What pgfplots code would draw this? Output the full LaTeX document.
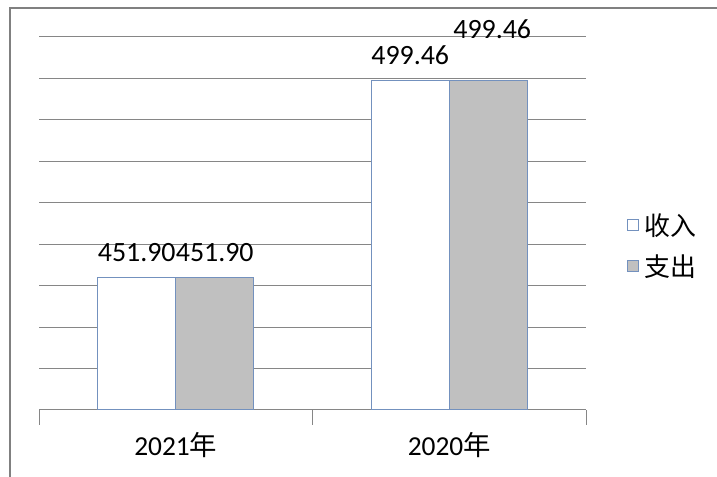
\documentclass[border=0pt]{standalone}
\usepackage{fontspec}
\setmainfont{Carlito}
\newfontfamily\cjk{Noto Sans CJK SC}
\usepackage{pgfplots}
\pgfplotsset{compat=1.18}
\definecolor{gridc}{RGB}{134,134,134}
\definecolor{edgec}{RGB}{115,145,190}
\definecolor{barg}{RGB}{192,192,192}
\definecolor{framec}{RGB}{128,128,128}
\begin{document}
\begin{tikzpicture}[x=1bp,y=1bp]
\useasboundingbox (0,0) rectangle (717,477);
\draw[framec, line width=2bp] (10,-2) -- (10,469) -- (719,469);
\begin{axis}[
  at={(39bp,67bp)}, anchor=south west,
  scale only axis, width=547bp, height=373bp,
  ymin=420, ymax=510, ytick={420,430,...,510},
  xmin=-0.5, xmax=1.5,
  ybar=0pt, bar width=78bp,
  axis x line*=bottom, axis y line*=left,
  y axis line style={draw=none},
  x axis line style={gridc, line width=1bp},
  ymajorgrids, grid style={gridc, line width=1bp},
  yticklabels={}, ytick style={draw=none},
  xtick={-0.5,0.5,1.5}, xticklabels={},
  xtick style={gridc, line width=1bp},
  major tick length=15bp, tick align=outside,
  extra x ticks={0,1},
  extra x tick labels={2021{\cjk 年},2020{\cjk 年}},
  extra x tick style={major tick length=0pt, xtick style={draw=none},
    xticklabel style={anchor=center, yshift=-35bp}},
  ticklabel style={font=\fontsize{27.5}{32}\selectfont, text=black},
  /pgf/number format/assume math mode=true,
  legend image code/.code={\draw[#1, line width=1bp] (0bp,-5.5bp) rectangle (11bp,5.5bp);},
  legend style={draw=none, fill=none, at={(1.075,0.44)}, anchor=west,
    font=\cjk\fontsize{26}{30}\selectfont, legend cell align=left,
    row sep=14bp, inner sep=0pt,
    /tikz/every odd column/.append style={column sep=3bp}},
  nodes near coords={\pgfmathprintnumber[fixed,fixed zerofill,precision=2,assume math mode=true]{\pgfplotspointmeta}},
  every node near coord/.append style={font=\fontsize{28}{32}\selectfont, anchor=center, text=black, inner sep=0pt},
]
\addplot[draw=edgec, fill=white, line width=1bp,
  every node near coord/.append style={yshift=25bp}]
  coordinates {(0,451.90) (1,499.46)};
\addplot[draw=edgec, fill=barg, line width=1bp,
  visualization depends on={\coordindex \as \idx},
  every node near coord/.append style={yshift={25bp+26bp*\idx}, xshift={4bp*\idx}}]
  coordinates {(0,451.90) (1,499.46)};
\legend{收入,支出}
\end{axis}
\end{tikzpicture}
\end{document}
